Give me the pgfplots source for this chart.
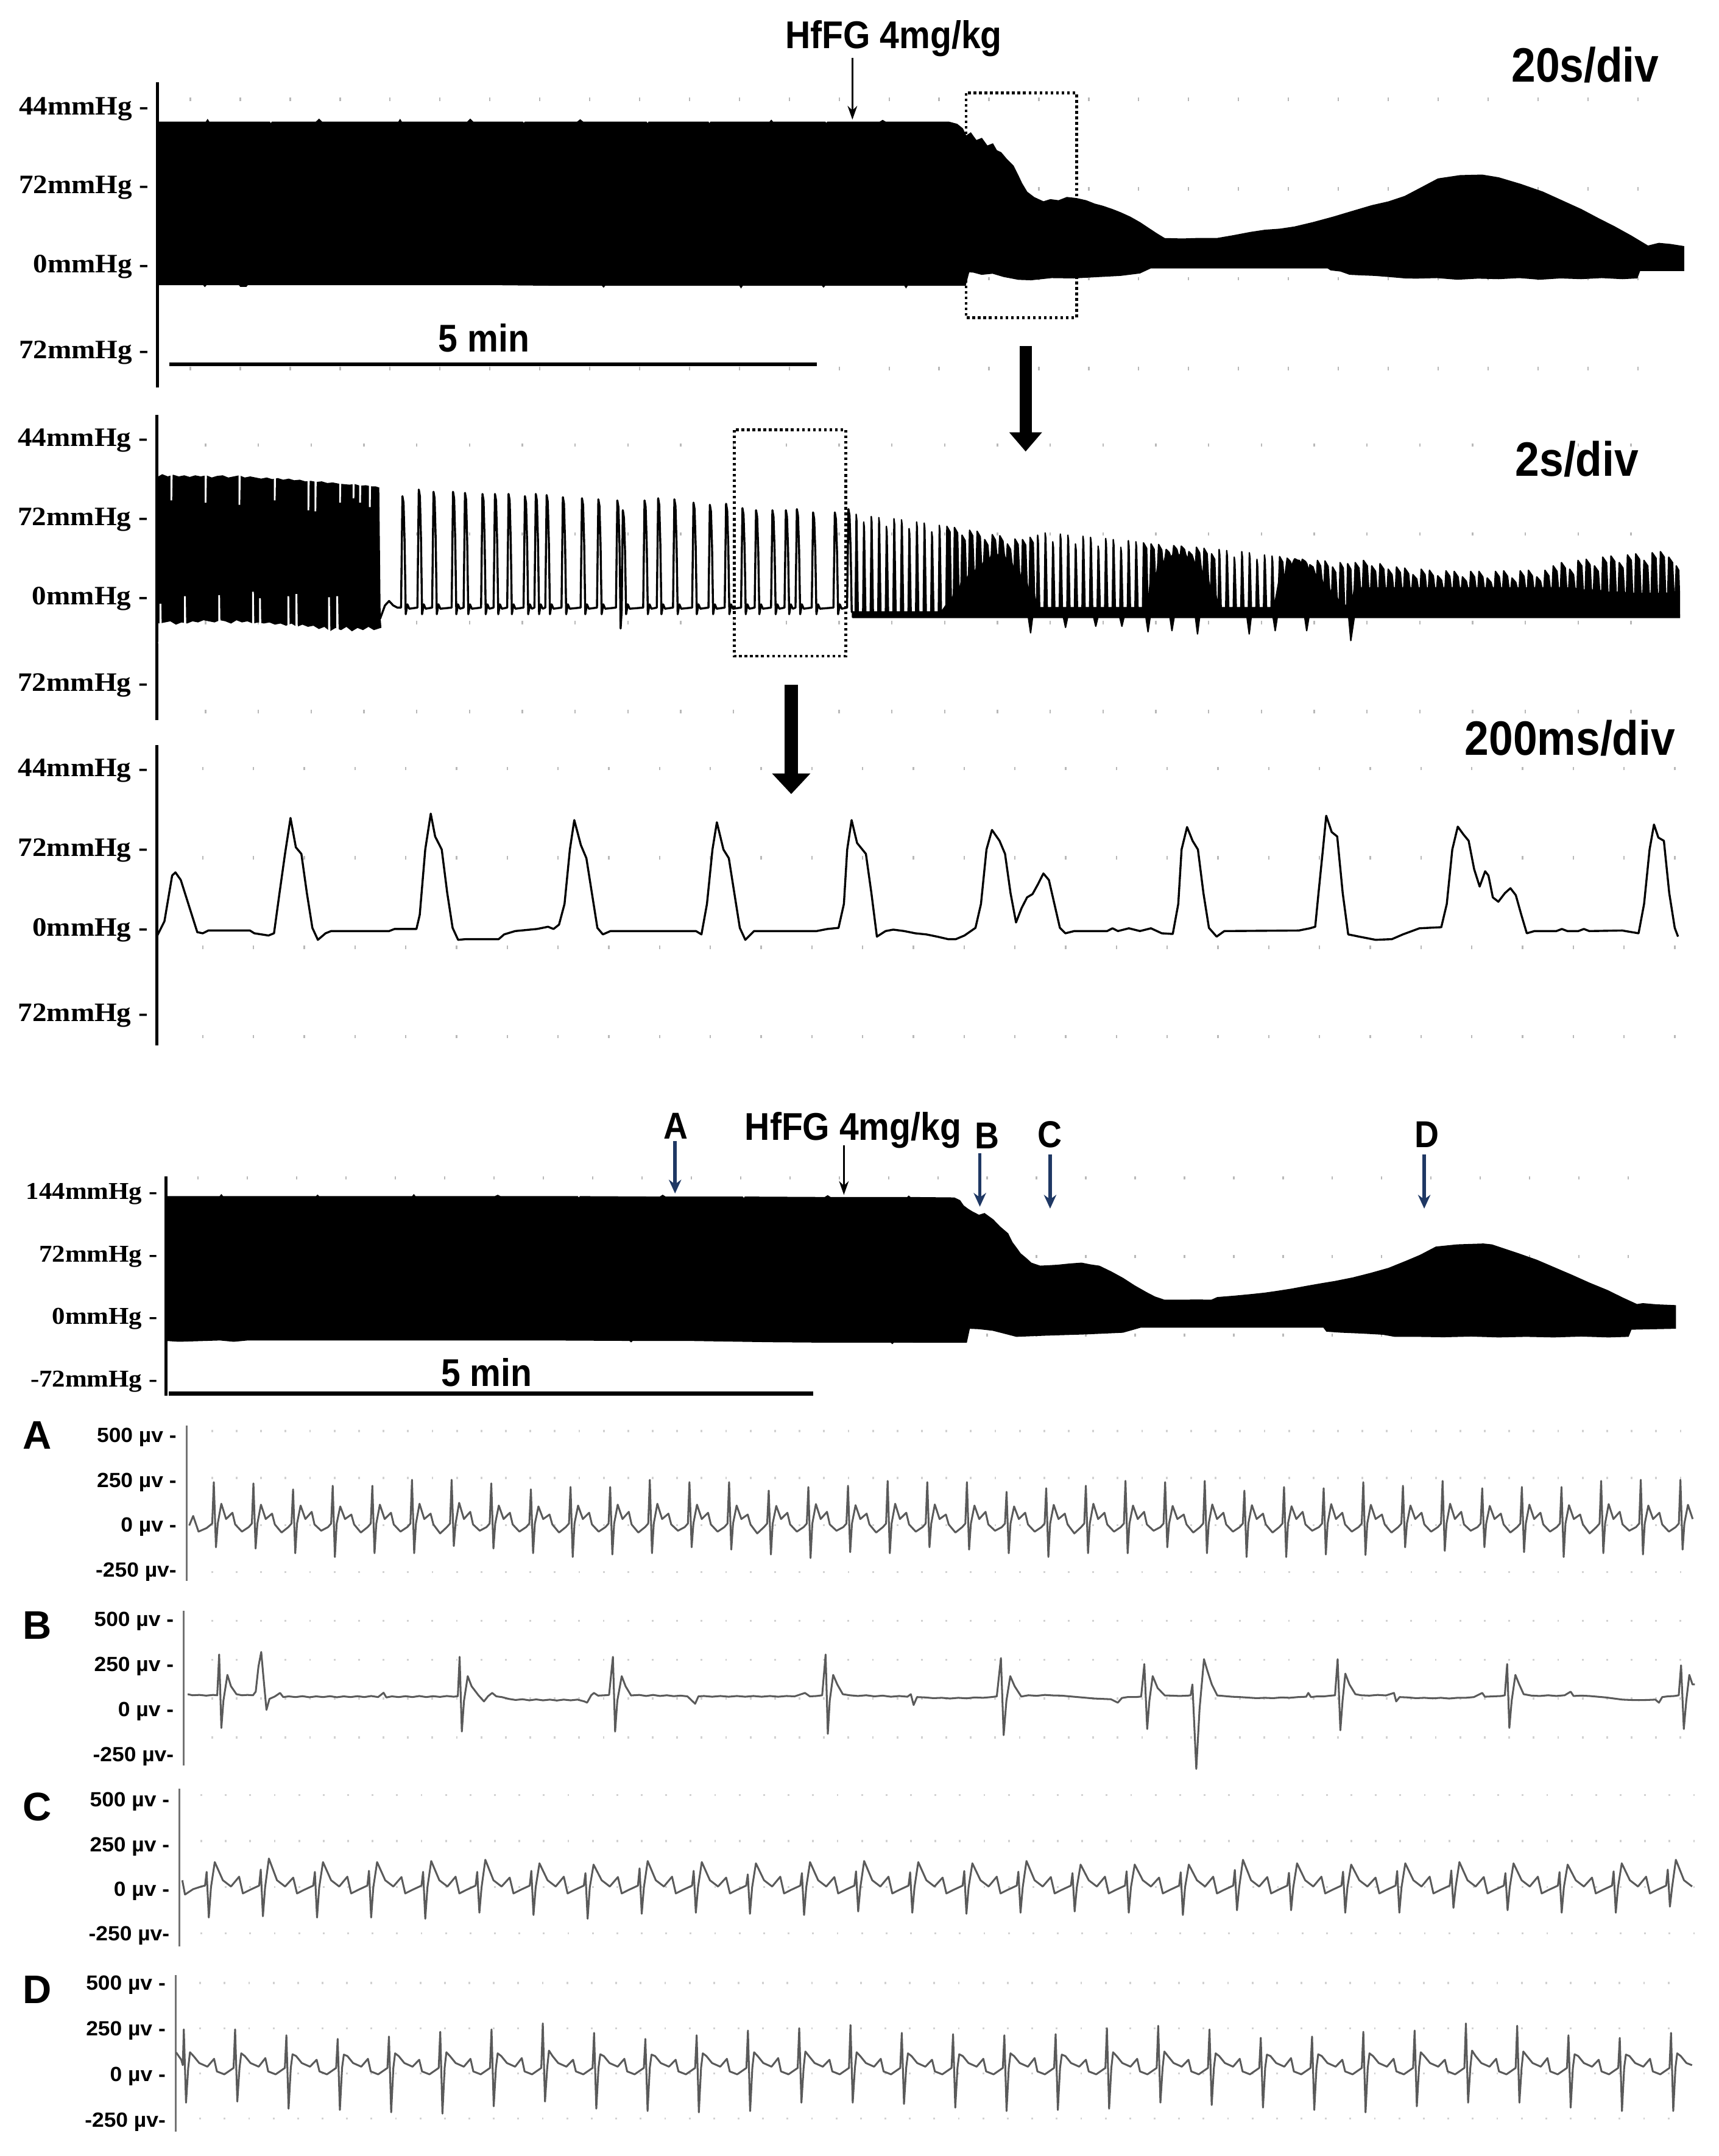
\documentclass[border=0pt]{standalone}
\usepackage{fontspec}
\usepackage{pgfplots}
\pgfplotsset{compat=1.18}
\usetikzlibrary{arrows.meta}
\newfontfamily\bpserif[FakeStretch=1.08]{Liberation Serif}
\newfontfamily\sansN{Liberation Sans}
\newfontfamily\sansC[FakeStretch=0.9]{Liberation Sans}
\newfontfamily\sansW[FakeStretch=1.05]{Liberation Sans}
\definecolor{navy}{RGB}{31,56,100}
\definecolor{ecggray}{RGB}{90,90,90}
\pgfplotsset{
 base/.style={scale only axis, anchor=south west,
   axis x line*=bottom, axis y line*=left,
   x axis line style={draw=none},
   major tick length=0pt, minor tick length=0pt, tick style={draw=none},
   xticklabels={}, xmajorgrids=true, ymajorgrids=false,
   yticklabel style={anchor=east, inner sep=0pt, xshift=-1.2mm}},
 bp/.style={base, y axis line style={line width=0.45mm},
   yticklabel style={font=\bpserif\bfseries\fontsize{11}{12}\selectfont}},
 ecg/.style={base, y axis line style={line width=0.3mm, black!55},
   yticklabel style={font=\sansW\bfseries\fontsize{8.5}{9}\selectfont, xshift=-0.2mm},
   ytick={-250,0,250,500}, yticklabels={-250 µv-,0 µv -,250 µv -,500 µv -}},
 trace/.style={black, line width=0.3mm, line join=round},
 ecgtrace/.style={ecggray, line width=0.27mm, line join=round},
}
\tikzset{
 lab/.style={inner sep=0pt, font=\sansC\bfseries\fontsize{16}{18}\selectfont},
 big/.style={inner sep=0pt, font=\sansC\bfseries\fontsize{20}{22}\selectfont},
 let/.style={inner sep=0pt, font=\sansN\bfseries\fontsize{16.5}{18}\selectfont},
 dotrect/.style={line width=0.4mm, dash pattern=on 0.4mm off 0.4mm},
 thinarrow/.style={line width=0.25mm, -{Stealth[width=1.4mm,length=2mm]}},
 bluearrow/.style={navy, line width=0.5mm, -{Stealth[width=1.8mm,length=2mm]}},
}
\begin{document}
\begin{tikzpicture}[x=0.2mm,y=-0.2mm]
\useasboundingbox (0,0) rectangle (1250,1568);

% ---------------- Panel 1: 20 s/div ----------------
\begin{axis}[bp, at={(22.94mm,-56.4mm)}, width=222.06mm, height=44.46mm,
  xmin=114.7, xmax=1225, ymin=-111.02, ymax=168.79,
  xtick={138.5,174.8,...,1225},
  major grid style={gray!55, line width=0.2mm, dash pattern=on 0.5mm off 12.56mm, dash phase=10.51mm},
  ytick={-78.7,0,72,144}, yticklabels={72mmHg -,0mmHg -,72mmHg -,44mmHg -}]
\addplot[fill=black, draw=black, line width=0.2mm] coordinates {
(114.7,132)(150,132)(151,134)(152,132)(196,132)(197,130)(198,132)(230,132)(232,134.5)(234,132)(290,132)(291,134)(292,132)(340,132)(342,134.5)(344,132)(380,132)(381,130.5)(382,132)(420,132)(422,134)(424,132)(470,132)(471,130)(472,132)(515,132)(516,130)(517,132)(560,132)(561,133.5)(562,132)(600,132)(601,130.5)(602,132)(640,132)(642,133.5)(644,132)(690,132)(696,130)
(700,126)(702.6,119)(706,122)(710,115)(714,117)(718,110)(722,112)(724.7,106)(728,104)(732,98)(736.8,92)(740,84)(743,76)(746.8,68)(752,63)(758.9,59)(764,61)(770,60)(776,63)(783,62)(790,60)(796,57)(802,55)(809,52)(815,49)(822,45)(829,40)(835,35)(841,30)(847,25.4)(860,25)(872,25.5)(885,25.4)(897,28)(909.5,31)(920,33)(931,34)(941.6,36)(955,40)(969.7,45)(983,50)(997.8,55.5)(1010,59)(1021.9,64)(1034,72)(1046,80)(1062,83)(1078,83.5)(1090,81)(1106,75)(1122,68)(1136,60)(1150,52)(1162,44)(1174.5,36)(1186,28)(1198.6,18.5)(1206.6,21)(1215,20)(1225,18)
(1225,-3.5)(1192.6,-3.5)(1190.6,-10.3)(1180,-11)(1165,-10)(1150,-11)(1135,-10.3)(1120,-11.5)(1105,-10)(1090,-11)(1075,-10.5)(1060,-11.5)(1045,-10)(1030,-10.5)(1022,-10.3)(1010,-9)(1000,-8)(990,-7.5)(981.7,-7)(975,-4)(968,-3)(965.7,-1.1)(900,-1.1)(837,-1.1)(829,-5.8)(815,-8)(800,-9)(781,-10.3)(765,-10)(750,-12)(740.8,-11.6)(730,-9)(722,-6)(714,-7)(708,-5)(704.6,-4.7)(702,-17)
(660,-17)(659,-19)(658,-17)(600,-17)(599,-18.5)(598,-17)(540,-17)(539,-19)(538,-17)(440,-17)(439,-18.5)(438,-17)(400,-17)(360,-16.5)(240,-16.5)(180,-16.5)(179,-18)(175,-18)(174,-16.5)(150,-16.5)(149,-18)(148,-16.5)(114.7,-16.5)};
\end{axis}

% ---------------- Panel 2: 2 s/div ----------------
\begin{axis}[bp, at={(22.78mm,-104.76mm)}, width=221.62mm, height=44.38mm,
  xmin=113.9, xmax=1222, ymin=-110.57, ymax=167.3,
  xtick={149.5,187.9,...,1222},
  major grid style={gray!55, line width=0.2mm, dash pattern=on 0.5mm off 12.42mm, dash phase=11.91mm},
  ytick={-78.5,0,72,144}, yticklabels={72mmHg -,0mmHg -,72mmHg -,44mmHg -}]
\addplot[fill=black, draw=black, line width=0.15mm] coordinates {
(113.9,110)(118,113)(122,111)(126,112.5)(130,111)(134,112)(138,110.5)(142,112)(146,111)(150,112)(154,110)(158,111.5)(162,112)(166,110)(170,111)(174,112)(178,110)(182,111)(186,110)(190,109)(194,110)(198,108.5)(202,109.5)(206,108)(210,109)(214,107.5)(218,108)(222,106.5)(226,107)(230,106)(234,106.5)(238,105)(242,105.5)(246,104.5)(250,104)(254,103.5)(258,104)(262,102.5)(266,103)(270,102)(273,102)(275.5,101)(276.5,-18)
(277,-26)(272,-28)(268,-25)(264,-28)(260,-26)(256,-29)(252,-25)(248,-28)(244,-26)(240,-29)(236,-25)(232,-27)(228,-24)(224,-25)(220,-23)(216,-25)(212,-22)(208,-24)(204,-22)(200,-23)(196,-21)(192,-22)(188,-21)(184,-22)(180,-20)(176,-21)(172,-19)(168,-22)(164,-20)(160,-19)(156,-21)(152,-20)(148,-19)(144,-21)(140,-20)(136,-22)(132,-21)(128,-23)(124,-20)(120,-21)(116,-22)(113.9,-21)};
\addplot[white, line width=0.25mm] coordinates {
(118,125)(124.6,125)(124.6,89.6)(125.1,125)(149.5,125)(149.5,87.6)(150,125)(174.1,125)(174.1,85.6)(174.6,125)(199.8,125)(199.8,89.6)(200.3,125)(224.3,125)(224.3,80.7)(224.8,125)(229.4,125)(229.4,79.7)(229.9,125)(247.3,125)(247.3,87.6)(247.8,125)(257.1,125)(257.1,91.6)(257.6,125)(261.9,125)(261.9,87.6)(262.4,125)(269,125)(269,83.6)(269.5,125)};
\addplot[white, line width=0.25mm] coordinates {
(115,-40)(116.7,-40)(116.7,-4.5)(117.2,-40)(134.5,-40)(134.5,2.4)(135,-40)(159.4,-40)(159.4,3.4)(159.9,-40)(184,-40)(184,6.4)(184.5,-40)(189.1,-40)(189.1,0.4)(189.6,-40)(209.7,-40)(209.7,2.4)(210.2,-40)(215.6,-40)(215.6,4.4)(216.1,-40)(239.3,-40)(239.3,1.4)(239.8,-40)(245.3,-40)(245.3,2.4)(245.8,-40)};
\addplot[black, line width=0.3mm, line join=round] coordinates {
(276.5,-18)(280,-6)(283,-2)(286,-6)(289,-8)
(291.7,-8)(292.7,93.5)(293.5,87.5)(294.3,51)(295.1,-14)(296.3,-5)(297.7,-9)
(303.6,-8)(304.6,99.5)(305.4,93.5)(306.2,55)(307,-14)(308.2,-5)(309.6,-9)
(314.3,-8)(315.3,97.5)(316.1,91.5)(316.9,54)(317.7,-14)(318.9,-5)(320.3,-9)
(328.5,-8)(329.5,97.5)(330.3,91.5)(331.1,54)(331.9,-14)(333.1,-5)(334.5,-9)
(337.2,-8)(338.2,96.5)(339,90.5)(339.8,53)(340.6,-14)(341.8,-5)(343.2,-9)
(349.9,-8)(350.9,95.5)(351.7,89.5)(352.5,52)(353.3,-14)(354.5,-5)(355.9,-9)
(359,-8)(360,95.5)(360.8,89.5)(361.6,52)(362.4,-14)(363.6,-5)(365,-9)
(368.9,-8)(369.9,95.5)(370.7,89.5)(371.5,52)(372.3,-14)(373.5,-5)(374.9,-9)
(380.8,-8)(381.8,93.5)(382.6,87.5)(383.4,51)(384.2,-14)(385.4,-5)(386.8,-9)
(388.7,-8)(389.7,95.5)(390.5,89.5)(391.3,52)(392.1,-14)(393.3,-5)(394.7,-9)
(396.6,-8)(397.6,94.5)(398.4,88.5)(399.2,52)(400,-14)(401.2,-5)(402.6,-9)
(408.4,-8)(409.4,92.6)(410.2,86.6)(411,51)(411.8,-14)(413,-5)(414.4,-9)
(422.3,-8)(423.3,91.6)(424.1,85.6)(424.9,50)(425.7,-14)(426.9,-5)(428.3,-9)
(434.2,-8)(435.2,90.6)(436,84.6)(436.8,50)(437.6,-14)(438.8,-5)(440.2,-9)
(448,-8)(449,89.6)(449.8,83.6)(450.6,49)(451.4,-27)(452.2,-10)(453,80.7)(453.8,74)(454.6,44)(455.4,-14)(456.6,-5)(458,-9)
(467.8,-8)(468.8,89.6)(469.6,83.6)(470.4,49)(471.2,-14)(472.4,-5)(473.8,-9)
(477.7,-8)(478.7,91.6)(479.5,85.6)(480.3,50)(481.1,-14)(482.3,-5)(483.7,-9)
(489.5,-8)(490.5,90.6)(491.3,84.6)(492.1,50)(492.9,-14)(494.1,-5)(495.5,-9)
(503.4,-8)(504.4,87.6)(505.2,81.6)(506,48)(506.8,-14)(508,-5)(509.4,-9)
(515.3,-8)(516.3,85.6)(517.1,79.6)(517.9,47)(518.7,-14)(519.9,-5)(521.3,-9)
(527.1,-8)(528.1,86.6)(528.9,80.6)(529.7,48)(530.5,-14)(531.7,-5)(533.1,-9)
(539,-8)(540,82.6)(540.8,76.6)(541.6,45)(542.4,-14)(543.6,-5)(545,-9)
(548.9,-8)(549.9,80.7)(550.7,74.7)(551.5,44)(552.3,-14)(553.5,-5)(554.9,-9)
(560.8,-8)(561.8,80.7)(562.6,74.7)(563.4,44)(564.2,-14)(565.4,-5)(566.8,-9)
(570.6,-8)(571.6,80.7)(572.4,74.7)(573.2,44)(574,-14)(575.2,-5)(576.6,-9)
(578.6,-8)(579.6,81.7)(580.4,75.7)(581.2,45)(582,-14)(583.2,-5)(584.6,-9)
(590.4,-8)(591.4,78.7)(592.2,72.7)(593,43)(593.8,-14)(595,-5)(596.4,-9)
(606.2,-8)(607.2,78.7)(608,72.7)(608.8,43)(609.6,-14)(610.8,-5)(612.2,-9)
(616.1,-8)(617.1,81.7)(617.9,75.7)(618.7,45)(619.5,-12)(620.5,-12)};
\addplot[fill=black, draw=black, line width=0.2mm, line join=round] coordinates {
(620,-17)(620,-12)
(622,-12)(622.7,77)(623.2,72)(624.2,-12)(627.5,-12)(628.2,70)(628.7,65)(629.7,-12)(633,-12)(633.7,75)(634.2,70)(635.2,-12)(638.5,-12)(639.2,74)(639.7,69)(640.7,-12)
(644,-12)(644.7,66)(645.2,61)(646.2,-12)(649.5,-12)(650.2,73)(650.7,68)(651.7,-12)(655,-12)(655.7,72)(656.2,67)(657.2,-12)(660.5,-12)(661.2,64)(661.7,59)(662.7,-12)
(666,-12)(666.7,70)(667.2,65)(668.2,-12)(671.5,-12)(672.2,69)(672.7,64)(673.7,-12)(677,-12)(677.7,61)(678.2,56)(679.2,-12)(682.5,-12)(683.2,67)(683.7,62)(684.7,-12)
(688,-6)(688.7,66)(691,61)(692,-6)(693.5,5)(694.2,65)(696.5,60)(697.5,5)(699,15)(699.7,58)(702,53)(703,15)(704.5,22)(705.2,62.5)(707.5,57.5)(708.5,22)
(710,28)(710.7,61.5)(713,56.5)(714,28)(715.5,34)(716.2,54)(718.5,49)(719.5,34)(721,40)(721.7,58.5)(724,53.5)(725,40)(726.5,40)(727.2,57.5)(729.5,52.5)(730.5,40)
(732,33)(732.7,50)(735,45)(736,33)(737.5,25)(738.2,54.5)(740.5,49.5)(741.5,25)(743,15)(743.7,54)(746,49)(747,15)(748.5,3)(749.2,56)(751.5,51)(752.5,3)
(754,-8)(754.7,58)(755.2,53)(756.2,-8)(759.5,-8)(760.2,60)(760.7,55)(761.7,-8)(765,-8)(765.7,52)(766.2,47)(767.2,-8)(770.5,-8)(771.2,59)(771.7,54)(772.7,-8)
(776,-8)(776.7,58)(777.2,53)(778.2,-8)(781.5,-8)(782.2,50)(782.7,45)(783.7,-8)(787,-8)(787.7,57)(788.2,52)(789.2,-8)(792.5,-8)(793.2,56)(793.7,51)(794.7,-8)
(798,-8)(798.7,48)(799.2,43)(800.2,-8)(803.5,-8)(804.2,55)(804.7,50)(805.7,-8)(809,-8)(809.7,54)(810.2,49)(811.2,-8)(814.5,-8)(815.2,47)(815.7,42)(816.7,-8)
(820,-8)(820.7,53)(821.2,48)(822.2,-8)(825.5,-8)(826.2,52)(826.7,47)(827.7,-8)
(831,-8)(831.7,51)(834,46)(835,-8)(836.5,15)(837.2,50)(839.5,45)(840.5,15)(842,30)(842.7,49.5)(845,44.5)(846,30)(847.5,38)(848.2,45)(850.5,42)(851.5,38)
(853,40)(853.7,48.5)(856,45)(857,40)(858.5,40)(859.2,48)(861.5,45)(862.5,40)(864,36)(864.7,43)(867,40)(868,36)(869.5,30)(870.2,47)(872.5,42)(873.5,30)
(875,18)(875.7,46)(878,41)(879,18)(880.5,3)(881.2,41)(883.5,36)(884.5,3)
(886,-8)(886.7,45)(887.2,40)(888.2,-8)(891.5,-8)(892.2,44)(892.7,39)(893.7,-8)(897,-8)(897.7,38)(898.2,33)(899.2,-8)(902.5,-8)(903.2,43)(903.7,38)(904.7,-8)
(908,-8)(908.7,42)(909.2,37)(910.2,-8)(913.5,-8)(914.2,36)(914.7,31)(915.7,-8)(919,-8)(919.7,40)(920.2,35)(921.2,-8)(924.5,-8)(925.2,39)(925.7,34)(926.7,-8)
(930,15)(930.7,38.5)(933,33.5)(934,15)(935.5,30)(936.2,37)(938.5,34)(939.5,30)(941,35)(941.7,36.5)(944,35)(945,35)(946.5,32)(947.2,36)(949.5,34)(950.5,32)
(952,25)(952.7,31)(955,29)(956,25)(957.5,18)(958.2,35)(960.5,30)(961.5,18)(963,10)(963.7,34.5)(966,29.5)(967,10)(968.5,2)(969.2,29)(971.5,24)(972.5,2)
(974,-6)(974.7,33)(977,28)(978,-6)(979.5,-6)(980.2,32)(982.5,27)(983.5,-6)
(985,10)(985.7,33)(988.5,28)(989.5,10)(991,10)(991.7,35)(994.5,30)(995.5,10)(997,10)(997.7,30)(1000.5,25)(1001.5,10)(1003,10)(1003.7,32)(1006.5,27)(1007.5,10)
(1009,10)(1009.7,27)(1012.5,22)(1013.5,10)(1015,10)(1015.7,29)(1018.5,24)(1019.5,10)(1021,10)(1021.7,28)(1024.5,23)(1025.5,10)(1027,10)(1027.7,22)(1030.5,18)(1031.5,10)
(1033,10)(1033.7,27)(1036.5,22)(1037.5,10)(1039,10)(1039.7,26)(1042.5,21)(1043.5,10)(1045,10)(1045.7,21)(1048.5,17)(1049.5,10)(1051,10)(1051.7,25.5)(1054.5,20.5)(1055.5,10)
(1057,10)(1057.7,25)(1060.5,20)(1061.5,10)(1063,10)(1063.7,20)(1066.5,16)(1067.5,10)(1069,10)(1069.7,25)(1072.5,20)(1073.5,10)(1075,10)(1075.7,25)(1078.5,20)(1079.5,10)
(1081,10)(1081.7,19)(1084.5,15)(1085.5,10)(1087,10)(1087.7,25)(1090.5,20)(1091.5,10)(1093,10)(1093.7,25.5)(1096.5,20.5)(1097.5,10)(1099,10)(1099.7,19)(1102.5,15)(1103.5,10)
(1105,10)(1105.7,25.5)(1108.5,20.5)(1109.5,10)(1111,10)(1111.7,26)(1114.5,21)(1115.5,10)(1117,10)(1117.7,20)(1120.5,16)(1121.5,10)(1123,10)(1123.7,26)(1126.5,21)(1127.5,10)
(1129,10)(1129.7,30)(1132.5,25)(1133.5,10)(1135,10)(1135.7,33)(1138.5,28)(1139.5,10)(1141,10)(1141.7,27)(1144.5,22)(1145.5,10)(1147,8)(1147.7,35)(1150.5,30)(1151.5,8)
(1153,8)(1153.7,36)(1156.5,31)(1157.5,8)(1159,8)(1159.7,30)(1162.5,25)(1163.5,8)(1165,6)(1165.7,38)(1168.5,33)(1169.5,6)(1171,6)(1171.7,39)(1174.5,34)(1175.5,6)
(1177,6)(1177.7,33)(1180.5,28)(1181.5,6)(1183,5)(1183.7,40)(1186.5,35)(1187.5,5)(1189,5)(1189.7,41)(1192.5,36)(1193.5,5)(1195,5)(1195.7,35)(1198.5,30)(1199.5,5)
(1201,5)(1201.7,42)(1204.5,37)(1205.5,5)(1207,5)(1207.7,43)(1210.5,38)(1211.5,5)(1213,5)(1213.7,38)(1216.5,33)(1217.5,5)(1218.5,5)(1219.2,30)(1221,26)(1222,-17)
(985,-17)(982.5,-38)(981,-17)(952,-17)(950.4,-29)(949,-17)(929,-17)(927.5,-29)(926,-17)(910,-17)(908.6,-32)(907,-17)(872.5,-17)(871,-32)(869.5,-17)(854,-17)(852.4,-29)(851,-17)
(836.5,-17)(835,-30)(833.5,-17)(817.5,-17)(816,-25)(814.5,-17)(798.5,-17)(797,-25)(795.5,-17)(776.5,-17)(775,-26)(773.5,-17)(751,-17)(749.6,-31)(748,-17)(620,-17)};
\end{axis}

% ---------------- Panel 3: 200 ms/div ----------------
\begin{axis}[bp, at={(22.8mm,-152.06mm)}, width=221.6mm, height=43.68mm,
  xmin=114, xmax=1222, ymin=-104.15, ymax=166.97,
  xtick={147.5,184.42,...,1222},
  major grid style={gray!55, line width=0.2mm, dash pattern=on 0.5mm off 12.5mm, dash phase=11.97mm},
  ytick={-77,0,72,144}, yticklabels={72mmHg -,0mmHg -,72mmHg -,44mmHg -}]
\addplot[trace] coordinates {
(114.0,-5.9)(119.6,7.9)(125.2,49.2)(127.6,52.1)(131.5,45.2)(135.5,29.5)(139.5,13.8)(143.5,-1.9)(147.5,-2.9)(151.5,-0.4)(181.8,-0.4)(185.0,-2.9)(195.3,-4.9)(199.3,-2.9)
(203.3,33.4)(207.3,68.8)(211.3,101.2)(215.2,74.7)(219.2,68.8)(223.2,33.4)(227.2,2.0)(231.2,-8.8)(236.8,-2.9)(240.8,-0.9)(283.0,-0.9)(287.0,1.0)(302.9,1.0)
(305.3,13.8)(309.3,72.7)(313.3,105.1)(316.5,84.5)(321.3,72.7)(325.3,33.4)(329.2,2.0)(333.2,-8.8)(338.8,-8.2)(362.7,-8.2)(366.7,-3.9)(374.7,-0.9)(390.6,1.0)(398.6,3.0)(402.6,1.0)(406.6,4.9)
(410.6,23.6)(414.5,72.7)(417.7,99.3)(422.5,76.7)(426.5,64.9)(430.5,33.4)(434.5,2.0)(438.5,-3.9)(444.0,-0.9)(506.2,-0.9)(510.2,-3.9)
(514.2,23.6)(518.2,72.7)(521.4,97.3)(526.2,72.7)(530.1,64.9)(534.1,33.4)(538.1,2.0)(542.1,-8.8)(548.5,-0.9)(593.9,-0.9)(601.9,1.0)(609.9,2.0)
(613.8,23.6)(616.2,72.7)(619.4,99.3)(623.4,78.6)(629.8,68.8)(633.8,33.4)(637.8,-5.9)(644.1,-0.9)(649.7,0.4)(657.7,-0.9)(665.7,-2.9)(673.6,-3.9)(681.6,-5.9)(689.6,-8.2)(695.2,-8.2)(701.5,-4.9)(709.5,2.0)
(713.5,23.6)(717.5,72.7)(721.5,90.4)(727.0,80.6)(731.0,68.8)(735.0,33.4)(739.0,6.9)(743.0,19.7)(747.0,29.5)(751.0,32.5)(754.9,41.3)(758.9,51.1)(762.9,45.2)(766.9,23.6)(770.9,2.0)(774.9,-2.9)(781.3,-0.9)(805.2,-0.9)(809.2,1.6)(813.1,-0.9)(821.1,1.6)(829.1,-0.9)(837.1,1.6)(845.0,-2.9)(853.0,-3.5)
(857.0,23.6)(859.4,72.7)(863.4,93.0)(867.4,80.6)(871.3,72.7)(875.3,33.4)(879.3,2.0)(884.9,-5.9)(890.5,-0.9)(944.7,-0.4)(952.7,1.6)(956.6,3.0)
(959.0,33.4)(962.2,72.7)(964.6,103.2)(968.6,88.5)(972.6,84.5)(976.6,33.4)(980.6,-3.9)(988.5,-5.9)(1000.5,-8.8)(1012.4,-8.2)(1020.4,-3.9)(1032.4,1.6)(1048.3,2.6)
(1052.3,23.6)(1056.3,72.7)(1060.3,93.4)(1064.3,86.5)(1068.2,80.6)(1072.2,55.0)(1076.2,39.3)(1080.2,53.1)(1082.6,49.2)(1085.8,29.5)(1089.8,25.6)(1094.6,33.4)(1098.6,37.8)(1102.5,31.5)(1106.5,13.8)(1110.5,-2.9)(1116.1,-0.9)(1132.0,-0.9)(1136.0,1.0)(1140.0,-0.9)(1148.0,-0.9)(1152.0,1.0)(1155.9,-0.9)(1179.9,-0.4)(1191.8,-2.9)
(1195.8,23.6)(1199.8,72.7)(1203.0,95.3)(1206.2,83.5)(1210.2,80.6)(1214.1,33.4)(1218.1,2.0)(1220.5,-5.9)};
\end{axis}

% ---------------- Panel 4: overview with markers ----------------
\begin{axis}[bp, at={(24.16mm,-203mm)}, width=219.64mm, height=31.88mm,
  xmin=120.8, xmax=1219, ymin=-88.28, ymax=163.9,
  xtick={144.1,179.97,...,1219},
  major grid style={gray!55, line width=0.2mm, dash pattern=on 0.5mm off 10.94mm, dash phase=2.89mm},
  yticklabel style={font=\bpserif\bfseries\fontsize{10}{11}\selectfont},
  ytick={-72,0,72,144}, yticklabels={-72mmHg -,0mmHg -,72mmHg -,144mmHg -}]
\addplot[fill=black, draw=black, line width=0.2mm] coordinates {
(120.8,140.5)(160,140.5)(161,142.5)(162,140.5)(230,140.5)(231,142)(232,140.5)(300,140.5)(301,142.5)(302,140.5)(360,140.5)(362,142)(364,140.5)(420,140.5)(421,138.5)(422,140.5)(480,140)(482,142)(484,140)(540,140)(541,138)(542,140)(600,139.5)(602,141.5)(604,139.5)(660,139.5)(661,141)(662,139.5)(694,139)
(698,136)(700.6,130)(704,126)(707.1,123)(712,119)(716,121)(722.1,114)(727,106)(732.9,98)(736,88)(739.3,81)(742,75)(745.8,70)(750,64)(756.5,60.5)(763,61)(769.4,61.6)(778,63)(786.6,64)(793,62)(799.5,60.5)(808,54)(816.7,46.5)(825,38)(833.9,30)(840,25)(846.8,21.4)(860,21.4)(870,21.5)(881.2,21.4)(885.5,24.4)(898,26)(911.2,28)(920,29.5)(928.4,31.4)(939,34)(949.9,37.2)(960,40)(971.4,43)(984,47)(997.2,52.3)(1010,58)(1023,66.3)(1033,73)(1044.5,82.5)(1060,85)(1078.9,86)(1085,85)(1091.8,81.4)(1104,75)(1117.6,67.4)(1130,59)(1143.3,50)(1156,41)(1169.1,32.5)(1180,24)(1190.6,16.3)(1194.9,17.4)(1205,16)(1218.5,15.1)
(1218.5,-10.5)(1186.3,-11.6)(1184.2,-19.8)(1170,-20.5)(1150,-19.5)(1130,-20.5)(1110,-19.8)(1090,-20.5)(1070,-19.5)(1050,-20.3)(1030,-19.8)(1014.4,-19.8)(1005.8,-17.4)(990,-16)(975,-15)(965,-13.9)(962.8,-9.3)(900,-9.3)(829.6,-9.3)(816.7,-15.1)(790,-17)(760,-18.5)(739.3,-19.8)(730,-16)(722.1,-12.8)(712,-11)(705,-10.5)(702.8,-26.7)
(650,-26.5)(649,-28)(648,-26.5)(600,-26.5)(560,-26)(520,-25)(500,-24.5)(460,-24.5)(459,-26)(458,-24.5)(400,-24)(300,-24)(240,-24)(180,-24)(170,-25.5)(160,-24)(130,-25.5)(120.8,-24.5)};
\end{axis}

% ---------------- ECG A ----------------
\begin{axis}[ecg, at={(27.14mm,-229.94mm)}, width=219.26mm, height=22.6mm,
  xmin=-0.6868, xmax=37.339, ymin=-298.9, ymax=564.97,
  xtick={-0.04,0.5774,...,37.3},
  major grid style={gray!35, line width=0.25mm, dash pattern=on 0.3mm off 6.54mm, dash phase=5.71mm}]
\addplot[ecgtrace] coordinates {
(-0.62,9)(-0.52,62)(-0.385,-25)(-0.18,-5)
(-0.04,20)(0,250)(0.055,-112)(0.1,20)(0.19,130)(0.31,45)(0.47,80)(0.54,15)(0.71,-25)(0.88,0)
(0.96,20)(1,243)(1.055,-119)(1.1,20)(1.19,125)(1.31,45)(1.47,75)(1.54,15)(1.71,-30)(1.88,0)
(1.96,20)(2,210)(2.055,-145)(2.1,20)(2.19,120)(2.31,45)(2.47,85)(2.54,15)(2.71,-20)(2.88,0)
(2.96,20)(3,230)(3.055,-166)(3.1,20)(3.19,115)(3.31,45)(3.47,70)(3.54,15)(3.71,-30)(3.88,0)
(3.96,20)(4,230)(4.055,-145)(4.1,20)(4.19,125)(4.31,45)(4.47,80)(4.54,15)(4.71,-25)(4.88,0)
(4.96,20)(5,263)(5.055,-145)(5.1,20)(5.19,130)(5.31,45)(5.47,75)(5.54,15)(5.71,-35)(5.88,0)
(5.96,20)(6,263)(6.055,-105)(6.1,20)(6.19,135)(6.31,45)(6.47,85)(6.54,15)(6.71,-20)(6.88,0)
(6.96,20)(7,243)(7.055,-119)(7.1,20)(7.19,120)(7.31,45)(7.47,80)(7.54,15)(7.71,-25)(7.88,0)
(7.96,20)(8,210)(8.055,-145)(8.1,20)(8.19,115)(8.31,45)(8.47,70)(8.54,15)(8.71,-30)(8.88,0)
(8.96,20)(9,223)(9.055,-166)(9.1,20)(9.19,120)(9.31,45)(9.47,80)(9.54,15)(9.71,-25)(9.88,0)
(9.96,20)(10,223)(10.055,-152)(10.1,20)(10.19,125)(10.31,45)(10.47,85)(10.54,15)(10.71,-30)(10.88,0)
(10.96,20)(11,263)(11.055,-145)(11.1,20)(11.19,130)(11.31,45)(11.47,75)(11.54,15)(11.71,-20)(11.88,0)
(11.96,20)(12,250)(12.055,-112)(12.1,20)(12.19,125)(12.31,45)(12.47,80)(12.54,15)(12.71,-25)(12.88,0)
(12.96,20)(13,250)(13.055,-125)(13.1,20)(13.19,120)(13.31,45)(13.47,70)(13.54,15)(13.71,-35)(13.88,0)
(13.96,20)(14,203)(14.055,-152)(14.1,20)(14.19,118)(14.31,45)(14.47,80)(14.54,15)(14.71,-25)(14.88,0)
(14.96,20)(15,223)(15.055,-172)(15.1,20)(15.19,128)(15.31,45)(15.47,85)(15.54,15)(15.71,-20)(15.88,0)
(15.96,20)(16,230)(16.055,-139)(16.1,20)(16.19,122)(16.31,45)(16.47,75)(16.54,15)(16.71,-30)(16.88,0)
(16.96,20)(17,257)(17.055,-145)(17.1,20)(17.19,130)(17.31,45)(17.47,80)(17.54,15)(17.71,-25)(17.88,0)
(17.96,20)(18,250)(18.055,-112)(18.1,20)(18.19,126)(18.31,45)(18.47,70)(18.54,15)(18.71,-30)(18.88,0)
(18.96,20)(19,250)(19.055,-125)(19.1,20)(19.19,120)(19.31,45)(19.47,85)(19.54,15)(19.71,-20)(19.88,0)
(19.96,20)(20,196)(20.055,-145)(20.1,20)(20.19,115)(20.31,45)(20.47,80)(20.54,15)(20.71,-25)(20.88,0)
(20.96,20)(21,216)(21.055,-166)(21.1,20)(21.19,124)(21.31,45)(21.47,75)(21.54,15)(21.71,-35)(21.88,0)
(21.96,20)(22,230)(22.055,-145)(22.1,20)(22.19,130)(22.31,45)(22.47,80)(22.54,15)(22.71,-25)(22.88,0)
(22.96,20)(23,257)(23.055,-145)(23.1,20)(23.19,120)(23.31,45)(23.47,85)(23.54,15)(23.71,-20)(23.88,0)
(23.96,20)(24,250)(24.055,-112)(24.1,20)(24.19,118)(24.31,45)(24.47,70)(24.54,15)(24.71,-30)(24.88,0)
(24.96,20)(25,257)(25.055,-145)(25.1,20)(25.19,126)(25.31,45)(25.47,80)(25.54,15)(25.71,-25)(25.88,0)
(25.96,20)(26,203)(26.055,-166)(26.1,20)(26.19,122)(26.31,45)(26.47,75)(26.54,15)(26.71,-30)(26.88,0)
(26.96,20)(27,223)(27.055,-166)(27.1,20)(27.19,116)(27.31,45)(27.47,85)(27.54,15)(27.71,-20)(27.88,0)
(27.96,20)(28,216)(28.055,-152)(28.1,20)(28.19,128)(28.31,45)(28.47,80)(28.54,15)(28.71,-25)(28.88,0)
(28.96,20)(29,250)(29.055,-155)(29.1,20)(29.19,124)(29.31,45)(29.47,70)(29.54,15)(29.71,-30)(29.88,0)
(29.96,20)(30,230)(30.055,-112)(30.1,20)(30.19,120)(30.31,45)(30.47,80)(30.54,15)(30.71,-25)(30.88,0)
(30.96,20)(31,257)(31.055,-132)(31.1,20)(31.19,130)(31.31,45)(31.47,85)(31.54,15)(31.71,-20)(31.88,0)
(31.96,20)(32,216)(32.055,-112)(32.1,20)(32.19,118)(32.31,45)(32.47,75)(32.54,15)(32.71,-30)(32.88,0)
(32.96,20)(33,223)(33.055,-139)(33.1,20)(33.19,125)(33.31,45)(33.47,80)(33.54,15)(33.71,-25)(33.88,0)
(33.96,20)(34,223)(34.055,-166)(34.1,20)(34.19,122)(34.31,45)(34.47,70)(34.54,15)(34.71,-35)(34.88,0)
(34.96,20)(35,257)(35.055,-145)(35.1,20)(35.19,128)(35.31,45)(35.47,85)(35.54,15)(35.71,-20)(35.88,0)
(35.96,20)(36,263)(36.055,-152)(36.1,20)(36.19,120)(36.31,45)(36.47,80)(36.54,15)(36.71,-25)(36.88,0)
(36.96,20)(37,263)(37.055,-125)(37.1,20)(37.19,124)(37.31,45)};
\end{axis}

% ---------------- ECG B ----------------
\begin{axis}[ecg, at={(26.74mm,-256.76mm)}, width=219.86mm, height=22.44mm, clip=false,
  xmin=133.7, xmax=1233, ymin=-297.9, ymax=557,
  xtick={154.3,172.1,...,1233},
  major grid style={gray!35, line width=0.25mm, dash pattern=on 0.3mm off 5.36mm, dash phase=1.77mm}]
\addplot[ecgtrace] coordinates {
(136.5,96)(140,90)(145,92)(150,88)(155,92)(158,90)
(159.4,316)(161,-91)(162.5,60)(165.4,203)(168,140)(172,96)(176,90)(180,92)(184,90)
(186,110)(188,250)(190,330)(191.5,200)(193.8,9)(196,70)(199.8,83)(203.7,103)(206,80)(210,84)
(215,80)(220,85)(225,79)(230,84)(235,80)(240,85)(245,79)(250,84)(255,80)(260,85)(265,80)(270,86)(275,80)(279,104)(281,78)(285,84)(290,80)(295,85)(300,80)(305,86)(310,80)(315,85)(320,81)(325,86)(330,82)(333,85)
(334.3,303)(335.9,-111)(337.5,60)(340.2,196)(343,140)(348,90)(352,56)(355,85)(358,103)(361,84)(365,80)
(370,70)(375,64)(380,68)(385,62)(390,67)(395,62)(400,66)(405,61)(410,66)(415,62)(420,66)(425,56)(427,49)(430,90)(432,103)(435,88)(440,90)(443,92)
(445.8,303)(447.4,-111)(449,60)(452.2,196)(455,140)(459,89)(465,92)(470,86)(475,92)(480,86)(485,90)(490,85)(495,88)(500,84)(505.6,43)(508,84)(512,86)(518,82)(524,86)(530,82)(536,86)(542,82)(548,86)(554,82)(560,86)(566,82)(572,86)(578,84)(585.5,103)(589,84)(594,86)(598,90)
(600.5,316)(602.1,-124)(603.5,60)(606,203)(609,150)(613,96)(618,90)(624,86)(630,90)(636,84)(642,88)(648,82)(654,86)(660,82)(662.5,96)(664.5,36)(667,80)(673,78)(679,74)(685,76)(691,72)(697,76)(703,73)(709,78)(715,76)(721,80)(725,84)
(728,296)(730,-131)(732,60)(734.8,196)(738,140)(742.8,83)(748,90)(754,87)(760,92)(766,89)(772,88)(778,84)(784,80)(790,76)(796,72)(802,70)(808,68)(813,49)(816,75)(820,80)(826,80)(830,83)
(832.3,263)(834.4,-97)(836,60)(838.4,196)(842,130)(847.2,89)(852,88)(858,86)(864,88)(866,90)
(867.3,150)(870.1,-318)(872.5,16)(875.7,290)(878,230)(881.4,150)(885.4,89)(890,86)(896,82)(902,80)(908,77)(914,74)(920,76)(926,74)(932,78)(938,76)(944,80)(950,82)(951.6,103)(953.5,80)(958,84)(963,84)(968,88)(971,90)
(972.9,290)(974.9,-104)(976.5,60)(978.5,210)(981.5,150)(985.8,96)(990,90)(996,88)(1002,92)(1008,89)(1013.9,103)(1015.5,56)(1018,80)(1024,78)(1030,74)(1036,76)(1042,73)(1048,76)(1054,72)(1060,76)(1066,76)(1072,80)(1078.1,103)(1080,82)(1086,84)(1092,86)(1094.5,90)
(1096.2,263)(1097.8,-91)(1099.5,60)(1102.2,203)(1105,150)(1108.2,96)(1114,88)(1120,86)(1126,90)(1132,86)(1138,90)(1142.4,110)(1144.5,86)(1150,88)(1156,86)(1162,82)(1168,78)(1174,72)(1180,66)(1186,64)(1192,63)(1198,64)(1204,66)(1206.6,49)(1209,80)(1213,84)(1218,86)(1221,90)
(1222.7,256)(1224.7,-97)(1226.5,60)(1228.7,203)(1231,150)(1232.7,150)};
\end{axis}

% ---------------- ECG C ----------------
\begin{axis}[ecg, at={(26.12mm,-283.1mm)}, width=220.38mm, height=22.92mm,
  xmin=-0.5005, xmax=27.495, ymin=-310.95, ymax=573.3,
  xtick={-0.099,0.3532,...,27.5},
  major grid style={gray!35, line width=0.25mm, dash pattern=on 0.3mm off 6.4mm, dash phase=4.93mm}]
\addplot[ecgtrace] coordinates {
(-0.45,60)(-0.4,-20)(-0.25,10)(-0.1,25)
(-0.03,30)(0,107)(0.04,-149)(0.08,20)(0.15,162)(0.3,60)(0.45,25)(0.6,80)(0.67,-14)(0.8,6)
(0.97,30)(1,120)(1.04,-142)(1.08,20)(1.15,182)(1.3,60)(1.45,25)(1.6,75)(1.67,-14)(1.8,6)
(1.97,30)(2,107)(2.04,-149)(2.08,20)(2.15,162)(2.3,60)(2.45,25)(2.6,80)(2.67,-14)(2.8,6)
(2.97,30)(3,113)(3.04,-149)(3.08,20)(3.15,162)(3.3,60)(3.45,25)(3.6,78)(3.67,-14)(3.8,6)
(3.97,30)(4,107)(4.04,-156)(4.08,20)(4.15,168)(4.3,60)(4.45,25)(4.6,80)(4.67,-14)(4.8,6)
(4.97,30)(5,107)(5.04,-122)(5.08,20)(5.15,175)(5.3,60)(5.45,25)(5.6,75)(5.67,-14)(5.8,6)
(5.97,30)(6,113)(6.04,-135)(6.08,20)(6.15,155)(6.3,60)(6.45,25)(6.6,80)(6.67,-14)(6.8,6)
(6.97,30)(7,100)(7.04,-156)(7.08,20)(7.15,148)(7.3,60)(7.45,25)(7.6,78)(7.67,-14)(7.8,6)
(7.97,30)(8,127)(8.04,-128)(8.08,20)(8.15,168)(8.3,60)(8.45,25)(8.6,80)(8.67,-14)(8.8,6)
(8.97,30)(9,113)(9.04,-122)(9.08,20)(9.15,162)(9.3,60)(9.45,25)(9.6,75)(9.67,-14)(9.8,6)
(9.97,30)(10,93)(10.04,-128)(10.08,20)(10.15,155)(10.3,60)(10.45,25)(10.6,80)(10.67,-14)(10.8,6)
(10.97,30)(11,100)(11.04,-135)(11.08,20)(11.15,162)(11.3,60)(11.45,25)(11.6,78)(11.67,-14)(11.8,6)
(11.97,30)(12,110)(12.04,-115)(12.08,20)(12.15,168)(12.3,60)(12.45,25)(12.6,80)(12.67,-14)(12.8,6)
(12.97,30)(13,105)(13.04,-122)(13.08,20)(13.15,162)(13.3,60)(13.45,25)(13.6,75)(13.67,-14)(13.8,6)
(13.97,30)(14,112)(14.04,-128)(14.08,20)(14.15,155)(14.3,60)(14.45,25)(14.6,80)(14.67,-14)(14.8,6)
(14.97,30)(15,108)(15.04,-122)(15.08,20)(15.15,168)(15.3,60)(15.45,25)(15.6,78)(15.67,-14)(15.8,6)
(15.97,30)(16,100)(16.04,-115)(16.08,20)(16.15,148)(16.3,60)(16.45,25)(16.6,80)(16.67,-14)(16.8,6)
(16.97,30)(17,110)(17.04,-122)(17.08,20)(17.15,148)(17.3,60)(17.45,25)(17.6,75)(17.67,-14)(17.8,6)
(17.97,30)(18,105)(18.04,-135)(18.08,20)(18.15,148)(18.3,60)(18.45,25)(18.6,80)(18.67,-14)(18.8,6)
(18.97,30)(19,118)(19.04,-108)(19.08,20)(19.15,175)(19.3,60)(19.45,25)(19.6,78)(19.67,-14)(19.8,6)
(19.97,30)(20,102)(20.04,-108)(20.08,20)(20.15,155)(20.3,60)(20.45,25)(20.6,80)(20.67,-14)(20.8,6)
(20.97,30)(21,108)(21.04,-122)(21.08,20)(21.15,148)(21.3,60)(21.45,25)(21.6,75)(21.67,-14)(21.8,6)
(21.97,30)(22,112)(22.04,-122)(22.08,20)(22.15,155)(22.3,60)(22.45,25)(22.6,80)(22.67,-14)(22.8,6)
(22.97,30)(23,115)(23.04,-95)(23.08,20)(23.15,162)(23.3,60)(23.45,25)(23.6,78)(23.67,-14)(23.8,6)
(23.97,30)(24,100)(24.04,-108)(24.08,20)(24.15,155)(24.3,60)(24.45,25)(24.6,80)(24.67,-14)(24.8,6)
(24.97,30)(25,106)(25.04,-122)(25.08,20)(25.15,148)(25.3,60)(25.45,25)(25.6,75)(25.67,-14)(25.8,6)
(25.97,30)(26,110)(26.04,-122)(26.08,20)(26.15,155)(26.3,60)(26.45,25)(26.6,80)(26.67,-14)(26.8,6)
(26.97,30)(27,120)(27.04,-88)(27.08,20)(27.15,175)(27.3,60)(27.45,25)};
\end{axis}

% ---------------- ECG D ----------------
\begin{axis}[ecg, at={(25.56mm,-310.04mm)}, width=220.64mm, height=22.74mm,
  xmin=-0.1582, xmax=29.418, ymin=-303.5, ymax=552.7,
  xtick={0.319,0.7962,...,29.4},
  major grid style={gray!35, line width=0.25mm, dash pattern=on 0.3mm off 6.26mm, dash phase=4.79mm}]
\addplot[ecgtrace] coordinates {
(-0.15,130)(-0.05,90)(-0.02,60)
(0,256)(0.043,-145)(0.086,46)(0.12,131)(0.19,110)(0.3,72)(0.46,52)(0.59,95)(0.645,26)(0.79,10)(0.97,45)
(1,256)(1.043,-139)(1.086,46)(1.12,125)(1.19,110)(1.3,72)(1.46,52)(1.59,99)(1.645,26)(1.79,10)(1.97,45)
(2,224)(2.043,-178)(2.086,46)(2.12,120)(2.19,110)(2.3,72)(2.46,52)(2.59,90)(2.645,26)(2.79,10)(2.97,45)
(3,204)(3.043,-185)(3.086,46)(3.12,118)(3.19,110)(3.3,72)(3.46,52)(3.59,95)(3.645,26)(3.79,10)(3.97,45)
(4,217)(4.043,-198)(4.086,46)(4.12,125)(4.19,110)(4.3,72)(4.46,52)(4.59,90)(4.645,26)(4.79,10)(4.97,45)
(5,243)(5.043,-205)(5.086,46)(5.12,131)(5.19,110)(5.3,72)(5.46,52)(5.59,95)(5.645,26)(5.79,10)(5.97,45)
(6,256)(6.043,-165)(6.086,46)(6.12,125)(6.19,110)(6.3,72)(6.46,52)(6.59,99)(6.645,26)(6.79,10)(6.97,45)
(7,289)(7.043,-139)(7.086,46)(7.12,140)(7.19,110)(7.3,72)(7.46,52)(7.59,90)(7.645,26)(7.79,10)(7.97,45)
(8,237)(8.043,-178)(8.086,46)(8.12,120)(8.19,110)(8.3,72)(8.46,52)(8.59,95)(8.645,26)(8.79,10)(8.97,45)
(9,204)(9.043,-191)(9.086,46)(9.12,118)(9.19,110)(9.3,72)(9.46,52)(9.59,90)(9.645,26)(9.79,10)(9.97,45)
(10,224)(10.043,-198)(10.086,46)(10.12,125)(10.19,110)(10.3,72)(10.46,52)(10.59,95)(10.645,26)(10.79,10)(10.97,45)
(11,250)(11.043,-191)(11.086,46)(11.12,131)(11.19,110)(11.3,72)(11.46,52)(11.59,99)(11.645,26)(11.79,10)(11.97,45)
(12,263)(12.043,-145)(12.086,46)(12.12,135)(12.19,110)(12.3,72)(12.46,52)(12.59,90)(12.645,26)(12.79,10)(12.97,45)
(13,280)(13.043,-145)(13.086,46)(13.12,131)(13.19,110)(13.3,72)(13.46,52)(13.59,95)(13.645,26)(13.79,10)(13.97,45)
(14,237)(14.043,-152)(14.086,46)(14.12,125)(14.19,110)(14.3,72)(14.46,52)(14.59,90)(14.645,26)(14.79,10)(14.97,45)
(15,230)(15.043,-172)(15.086,46)(15.12,120)(15.19,110)(15.3,72)(15.46,52)(15.59,95)(15.645,26)(15.79,10)(15.97,45)
(16,224)(16.043,-191)(16.086,46)(16.12,125)(16.19,110)(16.3,72)(16.46,52)(16.59,99)(16.645,26)(16.79,10)(16.97,45)
(17,230)(17.043,-185)(17.086,46)(17.12,118)(17.19,110)(17.3,72)(17.46,52)(17.59,90)(17.645,26)(17.79,10)(17.97,45)
(18,263)(18.043,-178)(18.086,46)(18.12,131)(18.19,110)(18.3,72)(18.46,52)(18.59,95)(18.645,26)(18.79,10)(18.97,45)
(19,276)(19.043,-145)(19.086,46)(19.12,135)(19.19,110)(19.3,72)(19.46,52)(19.59,90)(19.645,26)(19.79,10)(19.97,45)
(20,256)(20.043,-158)(20.086,46)(20.12,125)(20.19,110)(20.3,72)(20.46,52)(20.59,95)(20.645,26)(20.79,10)(20.97,45)
(21,210)(21.043,-172)(21.086,46)(21.12,118)(21.19,110)(21.3,72)(21.46,52)(21.59,99)(21.645,26)(21.79,10)(21.97,45)
(22,217)(22.043,-185)(22.086,46)(22.12,120)(22.19,110)(22.3,72)(22.46,52)(22.59,90)(22.645,26)(22.79,10)(22.97,45)
(23,243)(23.043,-198)(23.086,46)(23.12,125)(23.19,110)(23.3,72)(23.46,52)(23.59,95)(23.645,26)(23.79,10)(23.97,45)
(24,250)(24.043,-165)(24.086,46)(24.12,131)(24.19,110)(24.3,72)(24.46,52)(24.59,90)(24.645,26)(24.79,10)(24.97,45)
(25,289)(25.043,-145)(25.086,46)(25.12,140)(25.19,110)(25.3,72)(25.46,52)(25.59,95)(25.645,26)(25.79,10)(25.97,45)
(26,276)(26.043,-145)(26.086,46)(26.12,135)(26.19,110)(26.3,72)(26.46,52)(26.59,99)(26.645,26)(26.79,10)(26.97,45)
(27,224)(27.043,-172)(27.086,46)(27.12,120)(27.19,110)(27.3,72)(27.46,52)(27.59,90)(27.645,26)(27.79,10)(27.97,45)
(28,210)(28.043,-191)(28.086,46)(28.12,118)(28.19,110)(28.3,72)(28.46,52)(28.59,95)(28.645,26)(28.79,10)(28.97,45)
(29,237)(29.043,-191)(29.086,46)(29.12,125)(29.19,110)(29.3,72)(29.41,60)};
\end{axis}

% ---------------- annotations ----------------
\node[lab] at (650,28) {HfFG 4mg/kg};
\draw[thinarrow] (620,42) -- (620,87);
\node[big] at (1153,47) {20s/div};
\draw[dotrect] (702.7,67.6) rectangle (783,231);
\node[lab] at (352,246) {5 min};
\draw[line width=0.6mm] (123,265) -- (594.2,265);
\draw[line width=1.8mm, -{Triangle[width=4.6mm,length=2.8mm]}] (746,251.7) -- (746,328.4);

\node[big] at (1147,334) {2s/div};
\draw[dotrect] (534.1,312.6) rectangle (615.2,477.1);
\draw[line width=2mm, -{Triangle[width=5.4mm,length=3mm]}] (575.5,498) -- (575.5,577.5);

\node[big] at (1142,537) {200ms/div};

\node[lab, font=\sansC\bfseries\fontsize{15.5}{17}\selectfont] at (491.5,819) {A};
\draw[bluearrow] (491,830) -- (491,868);
\node[lab] at (620.5,822) {HfFG 4mg/kg};
\draw[thinarrow] (613.8,833) -- (613.8,869);
\node[lab, font=\sansC\bfseries\fontsize{15.5}{17}\selectfont] at (717.8,826) {B};
\draw[bluearrow] (712.7,838.7) -- (712.7,877.6);
\node[lab, font=\sansC\bfseries\fontsize{15.5}{17}\selectfont] at (763.8,825) {C};
\draw[bluearrow] (763.8,839.4) -- (763.8,879);
\node[lab, font=\sansC\bfseries\fontsize{15.5}{17}\selectfont] at (1038,825) {D};
\draw[bluearrow] (1035.9,839.4) -- (1035.9,879);
\node[lab] at (354,998) {5 min};
\draw[line width=0.6mm] (122.9,1013.6) -- (591.3,1013.6);

\node[let] at (27,1044) {A};
\node[let] at (27,1182) {B};
\node[let] at (27,1314) {C};
\node[let] at (27,1447) {D};
\end{tikzpicture}
\end{document}
